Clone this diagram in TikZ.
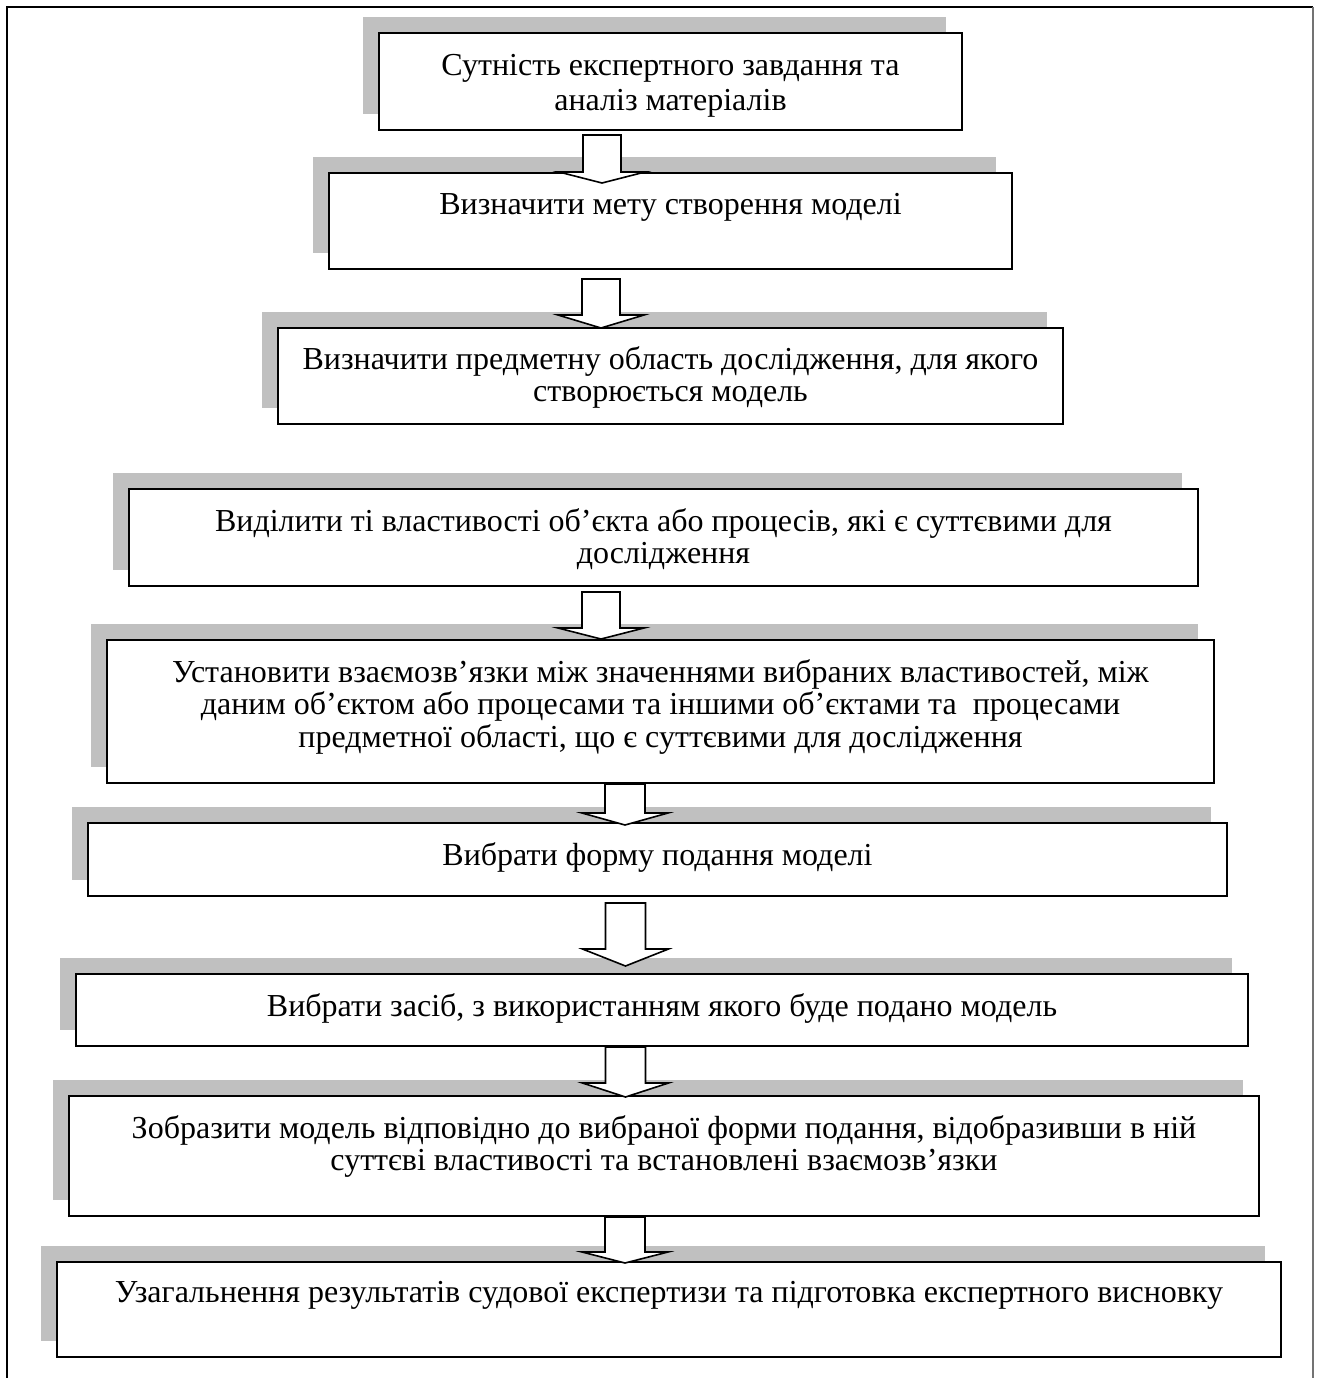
\documentclass[tikz,border=0pt]{standalone}
\usepackage{fontspec}
\setmainfont{Liberation Serif}
\usetikzlibrary{calc,shadows}
\definecolor{shgray}{RGB}{192,192,192}
\newcommand\fs{\fontsize{16pt}{16.3pt}\selectfont}
\newcommand\blockarr[4]{% #1 start coord, #2 tip coord, #3 head height, #4 shaft half width
  \draw[barrow] ($(#1)+(-#4,0)$) -- ($(#1)+(#4,0)$) -- ($(#2)+(#4,-#3)$) -- ($(#2)+(43,-#3)$) -- (#2)
     -- ($(#2)+(-43,-#3)$) -- ($(#2)+(-#4,-#3)$) -- cycle;}
\begin{document}
\begin{tikzpicture}[x=0.5pt,y=-0.5pt,
  box/.style={draw, line width=1pt, fill=white, inner sep=0pt, outer sep=0pt,
    general shadow={fill=shgray, draw=none, shadow xshift=-8pt, shadow yshift=8pt}},
  txt/.style={anchor=north, align=center, inner sep=0pt, font=\fs},
  barrow/.style={draw, fill=white, line width=0.8pt, line join=miter},
  frame/.style={line width=0.9pt}]
\useasboundingbox (0,0) rectangle (1317,1378);
% outer frame
\draw[frame] (7,1378) -- (7,7) -- (1313,7);
\draw[frame, black!55] (1313,7) -- (1313,1378);
% boxes
\node[box, minimum width=291.5pt, minimum height=48.5pt] (b1) at (670.5,81.5) {};
\node[box, minimum width=341.5pt, minimum height=48pt] (b2) at (670.5,221) {};
\node[box, minimum width=392.5pt, minimum height=48pt] (b3) at (670.5,376) {};
\node[box, minimum width=534.5pt, minimum height=48.5pt] (b4) at (663.5,537.5) {};
\node[box, minimum width=553.5pt, minimum height=71.5pt] (b5) at (660.5,711.5) {};
\node[box, minimum width=569.5pt, minimum height=36.5pt] (b6) at (657.5,859.5) {};
\node[box, minimum width=586pt, minimum height=36pt] (b7) at (662,1010) {};
\node[box, minimum width=595pt, minimum height=60pt] (b8) at (664,1156) {};
\node[box, minimum width=612pt, minimum height=47.5pt] (b9) at (669,1309.5) {};
% texts
\node[txt] (t1) at ($(b1.north)+(0,21)$) {Сутність експертного завдання та\\[1pt]аналіз матеріалів};
\node[txt] (t2) at ($(b2.north)+(0,20)$) {Визначити мету створення моделі};
\node[txt] (t3) at ($(b3.north)+(0,18)$) {Визначити предметну область дослідження, для якого\\створюється модель};
\node[txt] (t4) at ($(b4.north)+(0,19)$) {Виділити ті властивості об’єкта або процесів, які є суттєвими для\\дослідження};
\node[txt] (t5) at ($(b5.north)+(0,19)$) {Установити взаємозв’язки між значеннями вибраних властивостей, між\\даним об’єктом або процесами та іншими об’єктами та~ процесами\\предметної області, що є суттєвими для дослідження};
\node[txt] (t6) at ($(b6.north)+(0,19)$) {Вибрати форму подання моделі};
\node[txt] (t7) at ($(b7.north)+(0,19)$) {Вибрати засіб, з використанням якого буде подано модель};
\node[txt] (t8) at ($(b8.north)+(0,19)$) {Зобразити модель відповідно до вибраної форми подання, відобразивши в ній\\суттєві властивості та встановлені взаємозв’язки};
\node[txt] (t9) at ($(b9.north)+(0,19)$) {Узагальнення результатів судової експертизи та підготовка експертного висновку};
% arrow anchor points
\coordinate (a1s) at ($(602,0 |- b1.south)+(0,5)$);
\coordinate (a1e) at ($(602,0 |- b2.north)+(0,10)$);
\coordinate (a2s) at ($(601,0 |- b2.south)+(0,10)$);
\coordinate (a2e) at ($(601,0 |- b3.north)+(0,0)$);
\coordinate (a3s) at ($(601,0 |- b4.south)+(0,6)$);
\coordinate (a3e) at ($(601,0 |- b5.north)+(0,-1)$);
\coordinate (a4s) at ($(625,0 |- b5.south)+(0,1)$);
\coordinate (a4e) at ($(625,0 |- b6.north)+(0,2)$);
\coordinate (a5s) at ($(625.5,0 |- b6.south)+(0,7)$);
\coordinate (a5e) at ($(625.5,0 |- b7.north)+(0,-8)$);
\coordinate (a6s) at ($(625.5,0 |- b7.south)+(0,1)$);
\coordinate (a6e) at ($(625.5,0 |- b8.north)+(0,1)$);
\coordinate (a7s) at ($(625,0 |- b8.south)+(0,1)$);
\coordinate (a7e) at ($(625,0 |- b9.north)+(0,1)$);
% block arrows
\blockarr{a1s}{a1e}{11}{19}
\blockarr{a2s}{a2e}{13}{19}
\blockarr{a3s}{a3e}{11}{19}
\blockarr{a4s}{a4e}{12}{20}
\blockarr{a5s}{a5e}{17}{20}
\blockarr{a6s}{a6e}{14}{20}
\blockarr{a7s}{a7e}{11}{20}
\end{tikzpicture}
\end{document}
